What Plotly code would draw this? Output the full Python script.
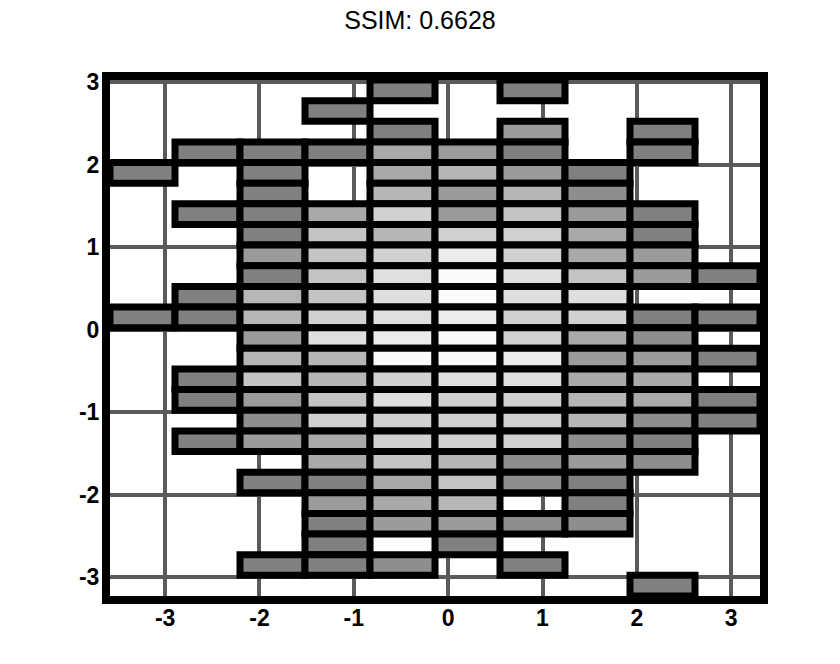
import plotly.graph_objects as go

# bin centres
x_centers = [-3.24 + 0.689 * i for i in range(10)]
y_centers = [2.9 - 0.25 * i for i in range(25)]
x_bin_width = 0.689
y_bin_height = 0.25

# counts per cell, top row first (0 = empty bin)
counts = [
    [0, 0, 0, 0, 1, 0, 1, 0, 0, 0],
    [0, 0, 0, 1, 0, 0, 0, 0, 0, 0],
    [0, 0, 0, 0, 1, 0, 3, 0, 1, 0],
    [0, 1, 1, 1, 4, 3, 1, 0, 1, 0],
    [1, 0, 1, 0, 4, 5, 3, 1, 0, 0],
    [0, 0, 1, 0, 5, 3, 5, 2, 0, 0],
    [0, 1, 1, 4, 7, 3, 6, 3, 1, 0],
    [0, 0, 1, 6, 5, 7, 7, 4, 1, 0],
    [0, 0, 3, 6, 7, 9, 7, 4, 3, 0],
    [0, 0, 1, 6, 8, 10, 8, 6, 3, 1],
    [0, 1, 5, 6, 8, 10, 8, 8, 0, 0],
    [1, 1, 5, 7, 8, 9, 7, 7, 1, 1],
    [0, 0, 3, 8, 9, 10, 7, 4, 2, 0],
    [0, 0, 5, 5, 10, 10, 9, 3, 3, 1],
    [0, 1, 6, 5, 7, 8, 8, 4, 4, 0],
    [0, 1, 3, 6, 8, 7, 7, 5, 4, 1],
    [0, 0, 2, 7, 7, 7, 7, 5, 2, 1],
    [0, 1, 3, 4, 7, 7, 7, 2, 1, 0],
    [0, 0, 0, 4, 6, 5, 2, 3, 2, 0],
    [0, 0, 1, 1, 4, 6, 2, 1, 0, 0],
    [0, 0, 0, 3, 4, 5, 0, 1, 0, 0],
    [0, 0, 0, 1, 3, 3, 2, 2, 0, 0],
    [0, 0, 0, 1, 0, 1, 0, 0, 0, 0],
    [0, 0, 1, 1, 2, 0, 1, 0, 0, 0],
    [0, 0, 0, 0, 0, 0, 0, 0, 1, 0],
]

tick_vals = [-3, -2, -1, 0, 1, 2, 3]
tick_text = ["-3", "-2", "-1", "0", "1", "2", "3"]
title_text = "SSIM: 0.6628"

xs, bases, heights, colors = [], [], [], []
for r, row in enumerate(counts):
    for c, v in enumerate(row):
        if v > 0:
            xs.append(x_centers[c])
            bases.append(y_centers[r] - y_bin_height / 2)
            heights.append(y_bin_height)
            colors.append(v)

fig = go.Figure(
    go.Bar(
        x=xs,
        y=heights,
        base=bases,
        width=x_bin_width,
        marker=dict(
            color=colors,
            colorscale=[[0, "rgb(128,128,128)"], [1, "rgb(250,250,250)"]],
            cmin=1,
            cmax=10,
            line=dict(color="black", width=7),
        ),
        hoverinfo="skip",
        showlegend=False,
    )
)

x_lo = x_centers[0] - x_bin_width / 2
x_hi = x_centers[-1] + x_bin_width / 2
y_hi = y_centers[0] + y_bin_height / 2
y_lo = y_centers[-1] - y_bin_height / 2

axis_common = dict(
    showline=True,
    linecolor="black",
    linewidth=8,
    mirror=True,
    showgrid=True,
    gridcolor="#5a5a5a",
    gridwidth=3.5,
    zeroline=False,
    tickmode="array",
    tickvals=tick_vals,
    ticktext=tick_text,
    tickfont=dict(family="Liberation Sans", size=23, color="black", weight="bold"),
)

fig.update_layout(
    width=840,
    height=664,
    margin=dict(l=110, r=80, t=80, b=68),
    paper_bgcolor="white",
    plot_bgcolor="white",
    barmode="overlay",
    title=dict(
        text=title_text,
        x=0.5,
        xanchor="center",
        y=0.970,
        yanchor="middle",
        yref="container",
        font=dict(family="Liberation Sans", size=25, color="black"),
    ),
    xaxis=dict(range=[x_lo, x_hi], ticklabelstandoff=-6, **axis_common),
    yaxis=dict(range=[y_lo, y_hi], ticklabelstandoff=-2, **axis_common),
)

fig.write_html("out.html")
